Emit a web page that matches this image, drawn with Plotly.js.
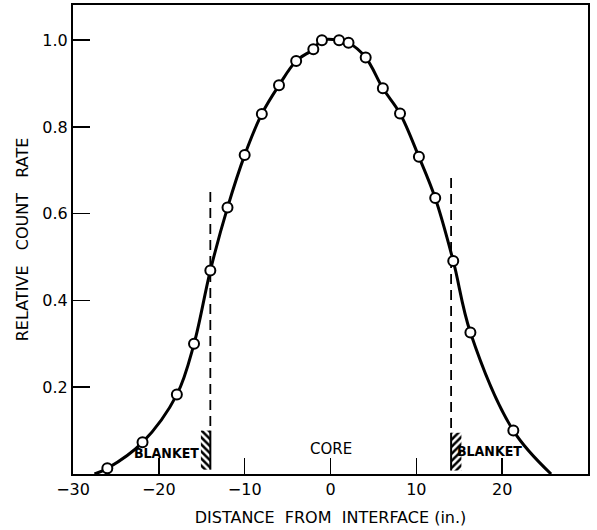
<!DOCTYPE html>
<html>
<head>
<meta charset="utf-8">
<script src="https://cdn.plot.ly/plotly-3.0.1.min.js"></script>
<style>html,body{margin:0;padding:0;background:#fff;}</style>
</head>
<body>
<div id="chart" style="width:597px;height:530px;"></div>
<script>
// Measured points (distance from interface, inches) and relative count rate
const distIn = [-26.0, -21.9, -17.9, -15.9, -14.0, -12.0, -10.0, -8.0, -6.0, -4.0, -2.0, -1.0, 1.0, 2.1, 4.1, 6.1, 8.1, 10.3, 12.2, 14.3, 16.3, 21.3];
const rate   = [0.013, 0.073, 0.183, 0.300, 0.469, 0.614, 0.735, 0.830, 0.896, 0.952, 0.979, 1.000, 1.000, 0.994, 0.960, 0.889, 0.831, 0.731, 0.636, 0.491, 0.326, 0.100];

// Smooth drawn curve end points (where it meets the axis)
const curveStartX = -27.5, curveEndX = 25.7;

// Core/blanket interfaces
const interfaceX = [-14.0, 14.05];
const dashTopY = [0.650, 0.682];
const dashBottomY = [0.100, 0.095];
const hatchX = [-14.55, 14.65];
const hatchWidth = [1.1, 1.2];
const hatchBase = [0.010, 0.008];
const hatchHeight = [0.090, 0.087];
const hatchShape = ['\\', '/'];

// Region labels
const regionLabels = ['BLANKET', 'CORE', 'BLANKET'];
const regionLabelX = [-19.1, 0.0, 18.5];
const regionLabelY = [0.048, 0.058, 0.052];

const xTicks = [-30, -20, -10, 0, 10, 20, 30];
const yTicks = [0.2, 0.4, 0.6, 0.8, 1.0];
const yTickText = ['0.2', '0.4', '0.6', '0.8', '1.0'];

const curveX = [curveStartX].concat(distIn, [curveEndX]);
const curveY = [0].concat(rate, [0]);

const traces = [];
for (let i = 0; i < interfaceX.length; i++) {
  traces.push({
    x: [interfaceX[i], interfaceX[i]], y: [dashTopY[i], dashBottomY[i]],
    mode: 'lines', line: {color: '#000', width: 1.8, dash: '10px,6px'},
    hoverinfo: 'skip', showlegend: false
  });
  traces.push({
    x: [interfaceX[i], interfaceX[i]], y: [hatchBase[i], hatchBase[i] + hatchHeight[i]],
    mode: 'lines', line: {color: '#000', width: 2},
    hoverinfo: 'skip', showlegend: false
  });
}
traces.push({
  type: 'bar', x: hatchX, y: hatchHeight, base: hatchBase, width: hatchWidth,
  marker: {color: '#fff', line: {width: 0},
    pattern: {shape: hatchShape, fgcolor: '#000', bgcolor: '#fff', size: 5, solidity: 0.5}},
  hoverinfo: 'skip', showlegend: false
});
traces.push({
  x: curveX, y: curveY, mode: 'lines',
  line: {color: '#000', width: 3, shape: 'spline', smoothing: 1},
  hoverinfo: 'skip', showlegend: false
});
traces.push({
  x: distIn, y: rate, mode: 'markers',
  marker: {symbol: 'circle', size: 10, color: '#fff', line: {color: '#000', width: 2}},
  showlegend: false
});

const annotations = regionLabels.map((t, i) => ({
  x: regionLabelX[i], y: regionLabelY[i], text: t, showarrow: false,
  xref: 'x', yref: 'y',
  font: {family: i === 1 ? 'DejaVu Sans, sans-serif' : 'DejaVu Sans Condensed, Liberation Sans Narrow, Liberation Sans, sans-serif',
         size: i === 1 ? 15 : 14, color: '#000', weight: i === 1 ? 'normal' : 'bold'}
}));

const nb = '\u00a0';
const layout = {
  width: 597, height: 530,
  margin: {l: 73, r: 9, t: 5, b: 56},
  paper_bgcolor: '#fff', plot_bgcolor: '#fff',
  font: {family: 'DejaVu Sans, sans-serif', color: '#000', size: 16},
  barmode: 'overlay',
  xaxis: {
    range: [-30, 30], tickvals: xTicks, ticktext: xTicks.map(v => v < 0 ? '\u2212' + Math.abs(v) : String(v)),
    ticks: 'inside', ticklen: 16, tickwidth: 1.5, tickcolor: '#000',
    showline: true, mirror: true, linecolor: '#000', linewidth: 2,
    showgrid: false, zeroline: false,
    tickfont: {size: 16},
    title: {text: 'DISTANCE' + nb + nb + 'FROM' + nb + nb + 'INTERFACE' + nb + '(in.)', font: {size: 16}, standoff: 14}
  },
  yaxis: {
    range: [0, 1.081], tickvals: yTicks, ticktext: yTickText,
    ticks: 'inside', ticklen: 17, tickwidth: 1.5, tickcolor: '#000',
    showline: true, mirror: true, linecolor: '#000', linewidth: 2,
    showgrid: false, zeroline: false,
    tickfont: {size: 16},
    title: {text: 'RELATIVE' + nb + nb + nb + 'COUNT' + nb + nb + nb + 'RATE', font: {size: 16}, standoff: 10}
  },
  annotations: annotations
};

Plotly.newPlot('chart', traces, layout, {displayModeBar: false, staticPlot: true});
</script>
</body>
</html>
